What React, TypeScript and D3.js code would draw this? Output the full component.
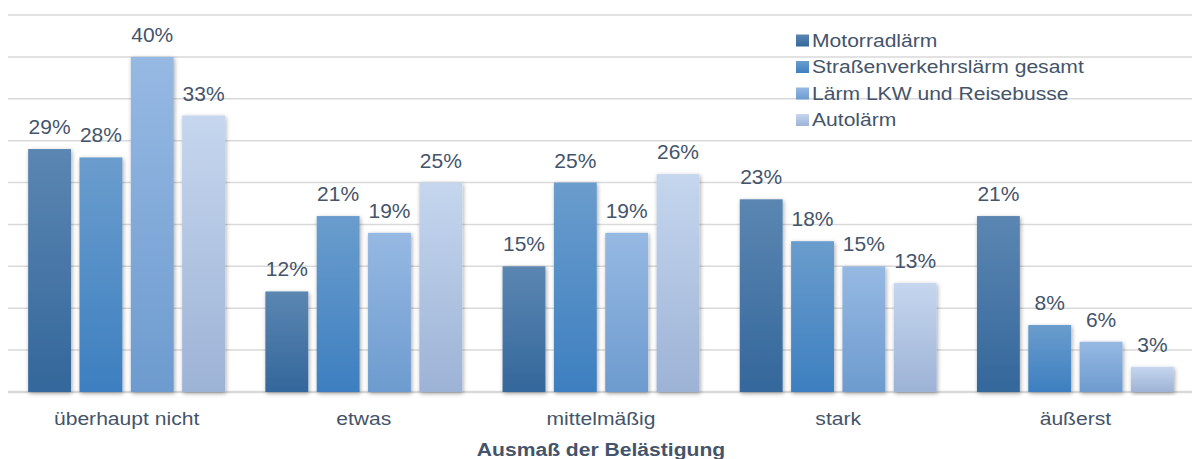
import React from "react";
import * as d3 from "d3";

const categories = ["überhaupt nicht", "etwas", "mittelmäßig", "stark", "äußerst"];
const seriesNames = [
  "Motorradlärm",
  "Straßenverkehrslärm gesamt",
  "Lärm LKW und Reisebusse",
  "Autolärm",
];
const motorradlaerm = [29, 12, 15, 23, 21];
const strassenverkehr = [28, 21, 25, 18, 8];
const lkwReisebusse = [40, 19, 19, 15, 6];
const autolaerm = [33, 25, 26, 13, 3];
const yTicks = [0, 5, 10, 15, 20, 25, 30, 35, 40, 45];
const axisTitle = "Ausmaß der Belästigung";

const seriesValues = [motorradlaerm, strassenverkehr, lkwReisebusse, autolaerm];
const gradientStops: [string, string][] = [
  ["#5b86b2", "#34679b"],
  ["#6a9dcd", "#3d7fc0"],
  ["#96b9e3", "#6d9bcf"],
  ["#c5d6ee", "#9db3d6"],
];

const W = 1192;
const H = 459;
const FONT = "'Liberation Sans', Arial, sans-serif";
const TEXT = "#44546a";

function SText(props: {
  x: number;
  y: number;
  size: number;
  sx?: number;
  anchor?: "start" | "middle" | "end";
  weight?: string;
  children: React.ReactNode;
}) {
  const { x, y, size, sx = 1.14, anchor = "middle", weight = "normal", children } = props;
  return (
    <text
      transform={`translate(${x},${y}) scale(${sx},1)`}
      textAnchor={anchor}
      fontSize={size}
      fontWeight={weight}
      fontFamily={FONT}
      fill={TEXT}
    >
      {children}
    </text>
  );
}

export default function App() {
  const y = d3.scaleLinear().domain([0, 45]).range([392, 15]);
  const x0 = d3
    .scaleBand<string>()
    .domain(categories)
    .range([8, 1194])
    .paddingInner(0.17)
    .paddingOuter(0.085);
  const x1 = d3
    .scaleBand<number>()
    .domain(d3.range(seriesNames.length))
    .range([0, x0.bandwidth()])
    .paddingInner(0.165)
    .paddingOuter(0);

  return (
    <svg
      width={W}
      height={H}
      style={{ position: "absolute", left: 0, top: 0, background: "#fff" }}
    >
      <defs>
        {gradientStops.map(([a, b], i) => (
          <linearGradient key={i} id={`g${i}`} x1="0" y1="0" x2="0" y2="1">
            <stop offset="0" stopColor={a} />
            <stop offset="1" stopColor={b} />
          </linearGradient>
        ))}
        <filter id="shadow" x="-30%" y="-10%" width="160%" height="125%">
          <feDropShadow dx="1" dy="1.5" stdDeviation="2" floodColor="#000" floodOpacity="0.35" />
        </filter>
      </defs>

      {/* horizontal gridlines */}
      {yTicks.map((t) => (
        <line
          key={t}
          x1={8}
          x2={W}
          y1={y(t)}
          y2={y(t)}
          stroke="#d9d9d9"
          strokeWidth={t === 0 ? 2.5 : 1.5}
        />
      ))}

      {/* legend */}
      {seriesNames.map((name, i) => {
        const ly = 46.5 + i * 26.5;
        return (
          <g key={name}>
            <rect x={796} y={ly - 12} width={13} height={12} fill={`url(#g${i})`} />
            <SText x={812} y={ly} size={18.5} anchor="start">
              {name}
            </SText>
          </g>
        );
      })}

      {/* bars */}
      {categories.map((cat, ci) => (
        <g key={cat} transform={`translate(${x0(cat)},0)`}>
          {seriesValues.map((vals, si) => {
            const v = vals[ci];
            const bx = x1(si)!;
            return (
              <rect
                key={si}
                x={bx}
                y={y(v)}
                width={x1.bandwidth()}
                height={y(0) - y(v)}
                fill={`url(#g${si})`}
                filter="url(#shadow)"
              />
            );
          })}
          {seriesValues.map((vals, si) => {
            const v = vals[ci];
            return (
              <SText
                key={`l${si}`}
                x={x1(si)! + x1.bandwidth() / 2}
                y={y(v) - 15}
                size={20}
                sx={1.05}
              >
                {`${v}%`}
              </SText>
            );
          })}
        </g>
      ))}

      {/* category labels */}
      {categories.map((cat) => (
        <SText key={cat} x={x0(cat)! + x0.bandwidth() / 2} y={425} size={18.5}>
          {cat}
        </SText>
      ))}

      <SText x={601} y={456} size={18.5} weight="bold">
        {axisTitle}
      </SText>
    </svg>
  );
}
